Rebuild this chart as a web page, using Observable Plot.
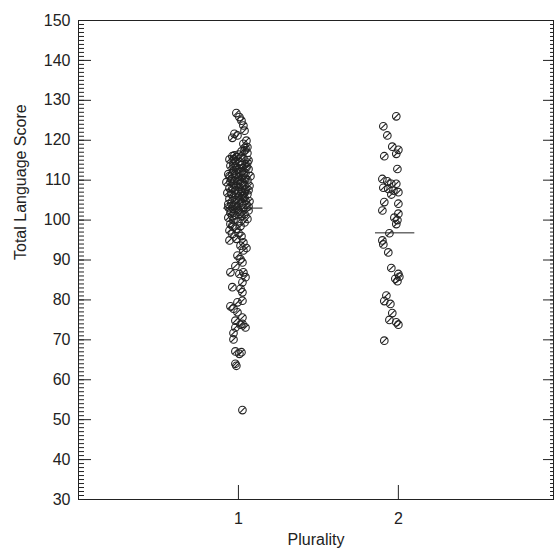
<!DOCTYPE html>
<html>
<head>
<meta charset="utf-8">
<script src="https://cdn.jsdelivr.net/npm/d3@7"></script>
<script src="https://cdn.jsdelivr.net/npm/@observablehq/plot@0.6"></script>
<style>
  body { margin: 0; background: #fff; }
  svg { font-family: "Liberation Sans", Arial, Helvetica, sans-serif; }
</style>
</head>
<body>
<div id="chart"></div>
<script>
// ---- data ----
const categories = [1, 2];
const yTicks = [30, 40, 50, 60, 70, 80, 90, 100, 110, 120, 130, 140, 150];
const xLabel = "Plurality";
const yLabel = "Total Language Score";

// Plurality 1: scores and horizontal jitter (data units around the category)
const score1 = [
  126.8,125.8,124.9,123.7,122.4,121.6,121.2,120.6,119.9,119.1,118.3,118.0,
  117.2,116.8,116.0,115.8,115.5,115.2,115.0,114.6,114.2,114.0,113.6,113.4,113.0,112.8,112.4,112.0,111.8,111.5,111.2,111.0,
  110.6,110.2,110.0,109.8,109.5,109.2,108.9,108.6,108.3,108.0,107.7,107.4,107.0,106.8,106.5,106.2,105.9,105.6,105.3,105.0,
  104.7,104.4,104.1,103.8,103.5,103.2,103.0,102.7,102.4,102.1,101.8,101.5,101.2,100.9,100.6,100.3,100.0,99.7,99.4,99.0,98.5,98.6,97.8,97.4,
  116.4,114.8,113.8,112.6,111.6,110.8,109.9,108.7,107.2,106.0,104.9,103.6,102.9,101.0,115.6,113.2,111.4,109.0,107.9,106.4,105.1,
  117.5,116.2,114.4,113.5,112.2,111.0,110.4,109.6,108.5,107.5,106.6,105.4,104.2,103.4,102.2,101.6,115.3,110.1,106.9,104.0,
  96.8,96.5,96.0,95.3,94.9,94.4,93.6,93.0,92.4,91.1,90.2,89.4,88.5,86.9,86.9,86.5,85.7,84.4,83.2,82.8,81.9,79.8,79.4,78.4,77.8,76.9,
  75.6,74.8,74.0,73.8,73.1,73.1,71.7,70.1,67.1,66.9,66.5,64.0,63.5,52.4
];
const jit1 = [
  -0.013,0.006,0.019,0.031,0.038,-0.025,-0.006,-0.038,0.05,0.031,0.056,0.044,
  0.019,0.056,-0.038,-0.013,0.031,-0.056,0.063,0.006,-0.031,0.044,-0.05,-0.013,0.025,0.063,-0.031,0.006,0.044,-0.063,-0.013,0.075,
  0.025,-0.044,0.056,-0.006,-0.075,0.031,-0.031,0.069,0.006,-0.056,0.044,-0.019,0.019,-0.069,0.056,-0.038,0,0.038,-0.056,-0.019,
  0.069,0.019,-0.044,0.05,-0.006,-0.063,0.031,-0.031,0.063,0.006,-0.05,0.038,-0.019,0.019,-0.063,0.056,-0.031,0,0.038,-0.05,0.013,-0.038,-0.013,-0.056,
  0,-0.019,0.019,-0.013,-0.038,0,-0.025,0.038,0,0.025,0.044,-0.031,-0.006,-0.038,0.013,0.05,0.031,0.013,-0.038,-0.013,0.006,
  0.038,-0.025,0.056,-0.031,0.019,-0.056,0.044,-0.05,-0.013,0.063,-0.044,0.031,-0.013,0.063,-0.044,0.013,-0.031,0.006,0.038,-0.063,
  0,-0.038,0.019,-0.013,-0.056,0.031,0.013,0.05,0.031,-0.006,0.013,0.025,-0.019,-0.05,0.031,0.006,0.044,0.025,-0.038,0.013,0.025,0.025,-0.006,-0.05,-0.031,-0.006,
  0.025,-0.019,0.025,0.013,0.044,-0.019,-0.031,-0.031,-0.019,0.019,0.006,-0.019,-0.013,0.025
];

// Plurality 2
const score2 = [
  126.0,123.5,121.2,118.4,117.6,116.6,116.0,112.8,110.3,109.7,109.1,109.1,108.1,107.8,107.4,107.0,106.4,104.5,104.1,102.4,101.6,
  100.6,100.0,99.0,96.7,94.9,93.9,91.9,88.0,86.5,85.3,84.7,85.8,81.1,79.7,79.0,76.7,75.0,74.4,73.8,69.8
];
const jit2 = [
  -0.013,-0.094,-0.069,-0.038,0,-0.013,-0.088,-0.006,-0.1,-0.069,-0.044,-0.013,-0.094,-0.063,-0.031,0,-0.044,-0.088,0,-0.1,0,
  -0.025,-0.006,-0.013,-0.056,-0.1,-0.094,-0.063,-0.044,0,-0.019,-0.006,0.006,-0.075,-0.088,-0.05,-0.038,-0.056,-0.013,0,-0.088
];

// group means (horizontal lines) and their centres
const means = [103.0, 96.8];
const meanCentreOffset = [0.03, -0.02];
const meanHalfWidth = 0.123;

// ---- build tables ----
const points = [
  ...score1.map((s, i) => ({x: categories[0] + jit1[i], y: s})),
  ...score2.map((s, i) => ({x: categories[1] + jit2[i], y: s}))
];
const meanRows = categories.map((c, i) => ({
  y: means[i],
  x1: c + meanCentreOffset[i] - meanHalfWidth,
  x2: c + meanCentreOffset[i] + meanHalfWidth
}));
const minorTicks = d3.range(30, 151, 1);

const W = 558, H = 548, ML = 78, MR = 5, MT = 20, MB = 49;
const innerW = W - ML - MR, innerH = H - MT - MB;
const ink = "#222";

const slashCircle = {
  draw(ctx, size) {
    const r = Math.sqrt(size / Math.PI);
    ctx.moveTo(r, 0);
    ctx.arc(0, 0, r, 0, 2 * Math.PI);
    const d = r * Math.SQRT1_2;
    ctx.moveTo(-d, d);
    ctx.lineTo(d, -d);
  }
};

const chart = Plot.plot({
  width: W, height: H,
  marginLeft: ML, marginRight: MR, marginTop: MT, marginBottom: MB,
  style: {fontSize: "16px", fontFamily: "'Liberation Sans', Arial, Helvetica, sans-serif", background: "#fff", color: ink},
  x: {domain: [0, 2.97], axis: null},
  y: {domain: [30, 150], axis: null},
  marks: [
    // ticks (inward)
    Plot.tickY(minorTicks, {y: d => d, insetRight: innerW - 6, stroke: ink, strokeWidth: 1}),
    Plot.tickY(yTicks, {y: d => d, insetRight: innerW - 13, stroke: ink, strokeWidth: 1}),
    Plot.tickY(minorTicks, {y: d => d, insetLeft: innerW - 3, stroke: ink, strokeWidth: 1}),
    Plot.tickY(yTicks, {y: d => d, insetLeft: innerW - 10, stroke: ink, strokeWidth: 1}),
    Plot.tickX(categories, {x: d => d, insetTop: innerH - 14, stroke: ink, strokeWidth: 1}),
    Plot.frame({stroke: ink, strokeWidth: 1}),
    // tick labels
    Plot.axisY({ticks: yTicks, anchor: "left", tickSize: 0, tickPadding: 8, fontSize: 16, label: null, color: ink, tickFormat: "d"}),
    Plot.axisX({ticks: categories, anchor: "bottom", tickSize: 0, tickPadding: 13, fontSize: 16, label: null, color: ink, tickFormat: "d"}),
    // axis titles
    Plot.text([yLabel], {text: d => d, frameAnchor: "left", dx: -58, rotate: -90, fontSize: 16, fill: ink}),
    Plot.text([xLabel], {text: d => d, frameAnchor: "bottom", dy: 34, lineAnchor: "top", fontSize: 16, fill: ink}),
    // data
    Plot.dot(points, {x: "x", y: "y", r: 3.8, symbol: slashCircle, stroke: ink, strokeWidth: 1.1, fill: "none"}),
    Plot.ruleY(meanRows, {y: "y", x1: "x1", x2: "x2", stroke: ink, strokeWidth: 1})
  ]
});
document.getElementById("chart").appendChild(chart);
</script>
</body>
</html>
